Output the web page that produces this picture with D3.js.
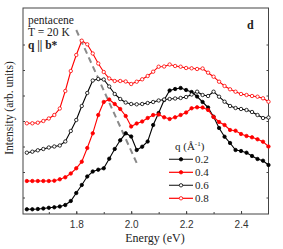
<!DOCTYPE html>
<head>
  <meta charset="utf-8">
  <title>pentacene loss spectra</title>
  <style>
    body { margin: 0; background: #fff; }
    text { font-family: "Liberation Serif", "DejaVu Serif", serif; fill: #222; }
    .tick text { font-family: "Liberation Sans", Arial, sans-serif; font-size: 10px; fill: #333; }
  </style>
</head>
<body>
<script src="https://cdn.jsdelivr.net/npm/d3@7/dist/d3.min.js"></script>
<script>
// energy grid of the measurement (eV)
var energy = [1.62, 1.64, 1.66, 1.68, 1.70, 1.72, 1.74, 1.76, 1.78, 1.80,
              1.82, 1.84, 1.86, 1.88, 1.90, 1.92, 1.94, 1.96, 1.98, 2.00,
              2.02, 2.04, 2.06, 2.08, 2.10, 2.12, 2.14, 2.16, 2.18, 2.20,
              2.22, 2.24, 2.26, 2.28, 2.30, 2.32, 2.34, 2.36, 2.38, 2.40,
              2.42, 2.44, 2.46, 2.48, 2.50];

// intensities (arb. units, curves offset as in the figure)
var q02 = [4.7, 4.7, 5, 5.5, 6.2, 6.7, 7.5, 9, 13, 21,
           29, 37.5, 42.5, 44.3, 45.7, 55.3, 65, 73.7, 80.7, 77.5,
           64, 67.3, 72.5, 89, 101, 114, 123.5, 125, 126, 124,
           122, 117.5, 112, 106.5, 97.3, 86, 77.3, 71, 64, 63,
           61.3, 58, 55, 53.3, 49];
var q04 = [33, 33, 33, 33, 33, 33.3, 34.7, 36.7, 40.5, 45.7,
           52.3, 66, 80.7, 99, 112, 114.5, 110, 105, 98, 87.5,
           90.5, 92.5, 96, 99, 99.5, 96.7, 95, 96.7, 99, 101.5,
           105.7, 106.7, 106.5, 104, 97, 92, 89, 84, 83.3, 80,
           78, 76.7, 74.7, 72.3, 67.5];
var q06 = [61.3, 62.3, 63.7, 65, 66.5, 67.5, 68.5, 72.5, 83, 94,
           108, 121, 133.5, 135, 134.5, 127.5, 120, 115, 111.5, 110,
           109.7, 110, 111, 112, 113.5, 114.5, 115, 115.5, 116, 117,
           119.5, 122.3, 119, 118, 122.3, 117.3, 112.3, 108, 106, 105,
           104, 102, 99, 96, 96.5];
var q08 = [90.7, 90.7, 91.3, 93, 95.5, 99, 105.5, 123, 143, 159,
           173.3, 169.7, 160.5, 150.5, 142, 135.5, 133, 133, 132.5, 130,
           132.3, 134.7, 138, 142.3, 147.3, 147.5, 149.5, 148, 147.3, 146,
           145.7, 145, 145.5, 141.3, 137.3, 132.3, 128, 124.7, 122.3, 120,
           119, 118, 117.3, 115.7, 112.3];

var qLabels = ["0.2", "0.4", "0.6", "0.8"];
var qColors = ["#000000", "#ff0000", "#000000", "#ff0000"];
var qFilled = [true, true, false, false];

// dashed guide through the low-energy peaks
var guideE = [1.80, 2.02];
var guideI = [184, 51];

var xTicks = [1.8, 2.0, 2.2, 2.4];
var xMinor = [1.7, 1.8, 1.9, 2.0, 2.1, 2.2, 2.3, 2.4];
var yMinor = [16.5, 42, 67.5, 93, 118.5, 144, 169.5];

var w = 283, h = 249;
var mLeft = 23, mRight = 268.5, mTop = 8, mBottom = 214;

var x = d3.scaleLinear().domain([1.606, 2.5]).range([mLeft, mRight]);
var y = d3.scaleLinear().domain([0, 206]).range([mBottom, mTop]);

var svg = d3.select("body").append("svg").attr("width", w).attr("height", h);

var series = [q02, q04, q06, q08].map(function(vals, i) {
  return { label: qLabels[i], color: qColors[i], filled: qFilled[i],
           points: energy.map(function(e, j) { return [e, vals[j]]; }) };
});

function styleAxis(g) {
  g.select(".domain").remove();
  g.selectAll("line").attr("stroke", "#444");
}

// axes: ticks pointing inward, labels only at the bottom
svg.append("g").attr("transform", "translate(0," + mBottom + ")")
  .call(d3.axisBottom(x).tickValues(xTicks).tickFormat(d3.format(".1f")).tickSizeInner(-3).tickSizeOuter(0).tickPadding(7))
  .call(styleAxis);
svg.append("g").attr("transform", "translate(0," + mBottom + ")")
  .call(d3.axisBottom(x).tickValues(xMinor).tickFormat("").tickSizeInner(-2).tickSizeOuter(0))
  .call(styleAxis);
svg.append("g").attr("transform", "translate(" + mLeft + ",0)")
  .call(d3.axisLeft(y).tickValues(yMinor).tickFormat("").tickSizeInner(-2).tickSizeOuter(0))
  .call(styleAxis);
svg.append("g").attr("transform", "translate(" + mRight + ",0)")
  .call(d3.axisRight(y).tickValues(yMinor).tickFormat("").tickSizeInner(-2).tickSizeOuter(0))
  .call(styleAxis);

svg.append("rect")
  .attr("x", mLeft).attr("y", mTop)
  .attr("width", mRight - mLeft).attr("height", mBottom - mTop)
  .attr("fill", "none").attr("stroke", "#444").attr("stroke-width", 1);

// dashed guide
svg.append("line")
  .attr("x1", x(guideE[0])).attr("y1", y(guideI[0]))
  .attr("x2", x(guideE[1])).attr("y2", y(guideI[1]))
  .attr("stroke", "#8a8a8a").attr("stroke-width", 2)
  .attr("stroke-dasharray", "6,4");

var line = d3.line().x(function(d) { return x(d[0]); }).y(function(d) { return y(d[1]); });

series.forEach(function(s) {
  svg.append("path").datum(s.points)
    .attr("d", line).attr("fill", "none")
    .attr("stroke", s.color).attr("stroke-width", 1.1);
  svg.selectAll(null).data(s.points).enter().append("circle")
    .attr("cx", function(d) { return x(d[0]); })
    .attr("cy", function(d) { return y(d[1]); })
    .attr("r", 1.7)
    .attr("fill", s.filled ? s.color : "#fff")
    .attr("stroke", s.color).attr("stroke-width", 0.8);
});

// annotations
svg.append("text").attr("x", 28).attr("y", 24).attr("font-size", 11.5).text("pentacene");
svg.append("text").attr("x", 28).attr("y", 36).attr("font-size", 11.5).text("T = 20 K");
svg.append("text").attr("x", 28).attr("y", 49).attr("font-size", 11.5).attr("font-weight", "bold").text("q || b*");
svg.append("text").attr("x", 247).attr("y", 29).attr("font-size", 12).attr("font-weight", "bold").text("d");

// legend
var lg = svg.append("g");
lg.append("text").attr("x", 175).attr("y", 150).attr("font-size", 11)
  .html('q (Å<tspan dy="-4" font-size="7">-1</tspan><tspan dy="4">)</tspan>');
series.forEach(function(s, i) {
  var yy = 159.3 + i * 13;
  lg.append("line").attr("x1", 169).attr("x2", 193).attr("y1", yy).attr("y2", yy)
    .attr("stroke", s.color === "#000000" ? "#333" : s.color).attr("stroke-width", 1.2);
  lg.append("circle").attr("cx", 181).attr("cy", yy).attr("r", 1.7)
    .attr("fill", s.filled ? s.color : "#fff").attr("stroke", s.color).attr("stroke-width", 0.8);
  lg.append("text").attr("x", 195).attr("y", yy + 4).attr("font-size", 11).text(s.label);
});

// axis titles
svg.append("text").attr("x", 155).attr("y", 242).attr("font-size", 12)
  .attr("text-anchor", "middle").text("Energy (eV)");
svg.append("text").attr("transform", "translate(13,108) rotate(-90)").attr("font-size", 11.5)
  .attr("text-anchor", "middle").text("Intensity (arb. units)");
</script>
</body>
